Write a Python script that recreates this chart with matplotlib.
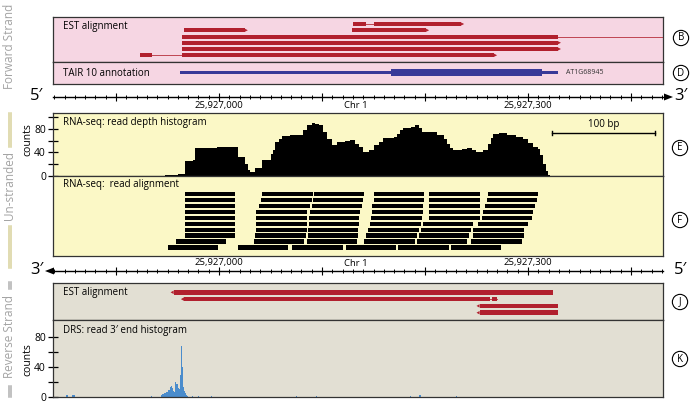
import matplotlib.pyplot as plt
import numpy as np

# ---- data (positions are bp offsets from 25,927,000) ----
ORIGIN = 25927000

# forward-strand EST alignments: one list of reads per row, each read = exon blocks
EST_FWD = [
    [[(130, 143), (150, 235)]],
    [[(-34, 25)], [(129, 201)]],
    [[(-36, 329), (440, 450)]],
    [[(-36, 329)]],
    [[(-36, 329)]],
    [[(-77, -65), (-36, 267)]],
]

# TAIR 10 gene model
GENE_NAME = 'AT1G68945'
GENE_SPAN = (-38, 329)
GENE_CDS = (167, 314)

# RNA-seq read depth (step profile)
HIST_POS = [-70, -52, -45, -40, -33, -25, -23, -2, 18, 25, 28, 30, 35, 42, 45,
            50, 52, 54, 58, 61, 69, 82, 85, 88, 90, 93, 97, 101, 105, 110,
            115, 122, 127, 132, 136, 140, 146, 150, 155, 159, 170, 173, 176,
            179, 186, 190, 194, 197, 205, 212, 218, 221, 224, 227, 236, 241,
            246, 250, 256, 261, 264, 266, 272, 280, 288, 295, 300, 305, 310,
            312, 315, 317, 319, 321]
HIST_CNT = [0, 1, 2, 3, 26, 27, 47, 50, 33, 20, 10, 7, 13, 27, 28,
            38, 44, 58, 63, 68, 69, 78, 86, 87, 90, 88, 86, 75, 62, 53,
            57, 59, 61, 55, 50, 40, 44, 52, 58, 64, 66, 72, 78,
            81, 84, 87, 82, 75, 74, 70, 62, 55, 47, 45, 46, 47,
            44, 41, 44, 55, 65, 71, 73, 70, 67, 62, 56, 50, 46,
            36, 20, 8, 2, 0]

# RNA-seq read alignment: read start per row
READ_LEN = 49
READ_STARTS = [
    [-33, 42, 92, 150, 204, 261],
    [-33, 41, 91, 150, 204, 260],
    [-33, 39, 90, 149, 204, 258],
    [-33, 36, 88, 149, 204, 256],
    [-33, 36, 87, 148, 204, 255],
    [-33, 36, 87, 147, 198, 251],
    [-33, 36, 86, 145, 196, 247],
    [-33, 35, 86, 143, 194, 247],
    [-42, 34, 85, 141, 192, 245],
    [-50, 18, 71, 123, 174, 225],
]

# reverse-strand EST alignments
EST_REV = [
    [[(-44, 324)]],
    [[(-34, 263), (265, 270)]],
    [[(253, 329)]],
    [[(253, 329)]],
]

# DRS read 3' end counts
DRS_POS = [-149, -148, -143, -142, -141, -66, -56, -55, -54, -53, -52, -51, -50,
           -49, -48, -47, -46, -45, -44, -43, -42, -41, -40, -39, -38, -37, -36,
           -35, -34, -33, -32, -31, -26, -20, -8, 75, 94, 185, 194, 195, 230]
DRS_CNT = [3, 3, 3, 3, 3, 2, 3, 4, 4, 5, 6, 7, 9,
           9, 14, 15, 12, 8, 7, 20, 18, 17, 12, 11, 30, 68, 40,
           14, 8, 5, 3, 2, 2, 2, 2, 2, 2, 1, 3, 3, 1]

RULER_LABELS = [0, 300]
SCALE_BAR_BP = 100

# ---- layout helpers (pixels of the 691x404 picture) ----
W, H = 691, 404
X0_PX = 219          # pixel column of 25,927,000
PX_PER_BP = 1.03


def bp(px):
    return (px - X0_PX) / PX_PER_BP


def rect(x0, y0, x1, y1):
    return [x0 / W, 1 - y1 / H, (x1 - x0) / W, (y1 - y0) / H]


def fxy(x, y):
    return x / W, 1 - y / H


PINK = '#f6d6e3'
YELLOW = '#fbf8c6'
BEIGE = '#e2dfd3'
RED = '#b1202e'
BLUE = '#393a98'
DRS_BLUE = '#4a8ccc'
EDGE = '#333333'
GREY = '#a3a3a3'

plt.rcParams['font.family'] = ['Open Sans', 'DejaVu Sans']

fig = plt.figure(figsize=(W / 100, H / 100), dpi=100)

# overlay for the rulers
ov = fig.add_axes([0, 0, 1, 1])
ov.set_xlim(bp(0), bp(W))
ov.set_ylim(H, 0)
ov.axis('off')

XL = (bp(53), bp(663))


def panel(y0, y1, color):
    ax = fig.add_axes(rect(53, y0, 663, y1))
    ax.set_facecolor(color)
    ax.set_xlim(*XL)
    ax.set_xticks([])
    for s in ax.spines.values():
        s.set_color(EDGE)
        s.set_linewidth(0.9)
    return ax


def draw_est(ax, rows, h, direction):
    tip = 3
    for r, reads in enumerate(rows):
        for blocks in reads:
            s0, e1 = blocks[0][0], blocks[-1][1]
            if len(blocks) > 1:
                ax.plot([s0, e1], [r, r], color=RED, lw=0.7, alpha=0.8)
            for s, e in blocks:
                ax.barh(r, e - s, left=s, height=h, color=RED, lw=0)
            if direction > 0:
                ax.fill([e1, e1 + tip, e1], [r - h * 0.4, r, r + h * 0.4], color=RED, lw=0)
            else:
                ax.fill([s0, s0 - tip, s0], [r - h * 0.4, r, r + h * 0.4], color=RED, lw=0)


# ---- forward strand: EST + TAIR ----
ax_b = panel(17, 62, PINK)
ax_b.set_ylim(6.08, -1.12)
ax_b.set_yticks([])
draw_est(ax_b, EST_FWD, 0.64, +1)

ax_d = panel(62, 84, PINK)
ax_d.set_ylim(1, -1)
ax_d.set_yticks([])
ax_d.barh(-0.05, GENE_SPAN[1] - GENE_SPAN[0], left=GENE_SPAN[0], height=0.27, color=BLUE, lw=0)
ax_d.barh(-0.05, GENE_CDS[1] - GENE_CDS[0], left=GENE_CDS[0], height=0.6, color=BLUE, lw=0)
ax_d.text(GENE_SPAN[1] + 8, -0.05, GENE_NAME, fontsize=5, va='center', color='#333333')

# ---- un-stranded: RNA-seq ----
ax_e = panel(113, 176, YELLOW)
ax_e.set_ylim(0, 107)
ax_e.fill_between(HIST_POS, HIST_CNT, step='post', color='black', lw=0)
ax_e.set_yticks([0, 20, 40, 60, 80, 100], ['0', '', '40', '', '80', ''])
ax_e.tick_params(axis='y', direction='inout', length=7, width=0.9, pad=1.5, labelsize=7.5)
sb0 = 323
ax_e.plot([sb0, sb0 + SCALE_BAR_BP], [73, 73], color='black', lw=1)
ax_e.plot([sb0, sb0], [70, 76], color='black', lw=1)
ax_e.plot([sb0 + SCALE_BAR_BP] * 2, [70, 76], color='black', lw=1)
ax_e.text(sb0 + SCALE_BAR_BP / 2, 87, '%d bp' % SCALE_BAR_BP, fontsize=7, ha='center', va='center')

ax_f = panel(176, 256, YELLOW)
ax_f.set_ylim(10.46, -3.1)
ax_f.set_yticks([])
for r, starts in enumerate(READ_STARTS):
    ax_f.barh([r] * len(starts), READ_LEN, left=starts, height=0.72, color='black', lw=0)

# ---- reverse strand: EST + DRS ----
ax_j = panel(283, 320, BEIGE)
ax_j.set_ylim(4.07, -1.37)
ax_j.set_yticks([])
draw_est(ax_j, EST_REV, 0.66, -1)

ax_k = panel(320, 397, BEIGE)
ax_k.set_ylim(0, 103)
ax_k.bar(DRS_POS, DRS_CNT, width=1, align='edge', color=DRS_BLUE, lw=0)
ax_k.set_yticks([0, 20, 40, 60, 80], ['0', '', '40', '', '80'])
ax_k.tick_params(axis='y', direction='inout', length=7, width=0.9, pad=1.5, labelsize=7.5)

# ---- rulers ----
ticks = np.arange(-160, 431, 10)
minor = ticks[ticks % 100 != 0]
major = ticks[ticks % 100 == 0]


def ruler(y, direction):
    if direction > 0:
        ov.plot([bp(53), bp(665)], [y, y], color='black', lw=1)
        ov.fill([bp(664), bp(673), bp(664)], [y - 3.5, y, y + 3.5], color='black', lw=0)
    else:
        ov.plot([bp(52), bp(663)], [y, y], color='black', lw=1)
        ov.fill([bp(54), bp(45), bp(54)], [y - 3.5, y, y + 3.5], color='black', lw=0)
    ov.vlines(minor, y - 1.8, y + 1.8, color='black', lw=0.7)
    ov.vlines(major, y - 3.6, y + 3.6, color='black', lw=0.8)


ruler(97, +1)
ruler(271, -1)
for lab_y in (105.5, 263):
    for t in RULER_LABELS:
        ov.text(t, lab_y, '{:,}'.format(ORIGIN + t), fontsize=6.8, ha='center', va='center')
    ov.text(bp(356), lab_y, 'Chr 1', fontsize=6.8, ha='center', va='center')

fig.text(*fxy(37, 96), '5\u2032', fontsize=12, ha='center', va='center')
fig.text(*fxy(681, 96), '3\u2032', fontsize=12, ha='center', va='center')
fig.text(*fxy(37, 270), '3\u2032', fontsize=12, ha='center', va='center')
fig.text(*fxy(681, 270), '5\u2032', fontsize=12, ha='center', va='center')

# ---- panel titles ----
for (x, y, s) in [(63, 27, 'EST alignment'), (63, 73, 'TAIR 10 annotation'),
                  (63, 123, 'RNA-seq: read depth histogram'),
                  (63, 185, 'RNA-seq:  read alignment'),
                  (63, 293, 'EST alignment'),
                  (63, 330, 'DRS: read 3\u2032 end histogram')]:
    fig.text(*fxy(x, y), s, fontsize=7, ha='left', va='center')

fig.text(*fxy(28, 140), 'counts', fontsize=7.5, rotation=90, ha='center', va='center')
fig.text(*fxy(28, 360), 'counts', fontsize=7.5, rotation=90, ha='center', va='center')

# ---- circled panel letters ----
for (x, y, s) in [(681, 38, 'B'), (681, 73, 'D'), (680, 148, 'E'),
                  (680, 220, 'F'), (680, 302, 'J'), (680, 359, 'K')]:
    fig.text(*fxy(x, y), s, fontsize=7, ha='center', va='center',
             bbox=dict(boxstyle='circle,pad=0.22', fc='white', ec='black', lw=0.8))

# ---- strand labels on the left ----
fig.text(*fxy(10, 46), 'Forward Strand', fontsize=8.5, rotation=90, color=GREY, ha='center', va='center')
fig.text(*fxy(10, 186), 'Un-stranded', fontsize=8.5, rotation=90, color=GREY, ha='center', va='center')
fig.text(*fxy(10, 337), 'Reverse Strand', fontsize=8.5, rotation=90, color=GREY, ha='center', va='center')
for xs, (ya, yb), c in [((8.6, 11.4), (113, 147), '#d8d29c'), ((8.6, 11.4), (226, 268), '#d8d29c'),
                        ((8.6, 11.4), (282, 289), '#b0b0b0'), ((8.6, 11.4), (386, 397), '#b0b0b0')]:
    for x in xs:
        ov.plot([bp(x), bp(x)], [ya, yb], color=c, lw=1.1)

fig.savefig('out.png', dpi=100)
